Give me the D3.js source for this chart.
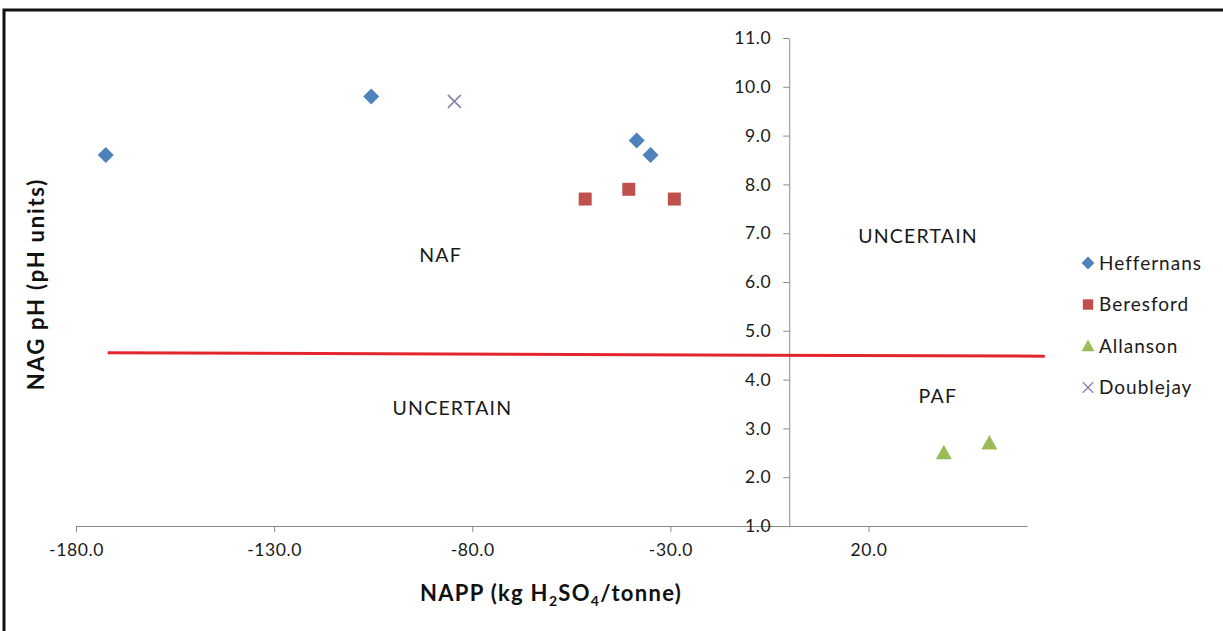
<html>
<head>
<meta charset="utf-8">
<script src="https://cdn.jsdelivr.net/npm/d3@7"></script>
<style>
  body { margin:0; background:#fff; }
  .tick text { font-family: Lato, "Open Sans", sans-serif; font-size:17.5px; fill:#1a1a1a; letter-spacing:0.6px; }
  .axis path, .axis line { stroke:#8a8a8a; }
</style>
</head>
<body>
<script>
// data
var xTicks = [-180, -130, -80, -30, 20];
var yTicks = [1, 2, 3, 4, 5, 6, 7, 8, 9, 10, 11];

var heffernans = [[-172.5, 8.6], [-105.5, 9.8], [-38.5, 8.9], [-35, 8.6]];
var beresford  = [[-51.5, 7.7], [-40.5, 7.9], [-29, 7.7]];
var allanson   = [[39, 2.5], [50.5, 2.7]];
var doublejay  = [[-84.5, 9.7]];
var boundary   = [[-172, 4.55], [64.5, 4.48]];

var zoneLabels = [
  {text:"NAF", x:-88, y:6.55},
  {text:"UNCERTAIN", x:-85, y:3.42},
  {text:"UNCERTAIN", x:32.5, y:6.94},
  {text:"PAF", x:37.5, y:3.66}
];

var series = [
  {name:"Heffernans", data:heffernans, shape:"diamond", color:"#4F81BD"},
  {name:"Beresford",  data:beresford,  shape:"square",  color:"#C0504D"},
  {name:"Allanson",   data:allanson,   shape:"triangle",color:"#9BBB59"},
  {name:"Doublejay",  data:doublejay,  shape:"cross",   color:"#8C7FA8"}
];

var W = 1223, H = 631;
var x = d3.scaleLinear().domain([-180, 60]).range([76, 1027]);
var y = d3.scaleLinear().domain([1, 11]).range([526, 38]);

// plain hyphen, one decimal
var fmt = function(d){ return d3.format(".1f")(d).replace("\u2212", "-"); };

var svg = d3.select("body").append("svg")
  .attr("width", W).attr("height", H);

// frame
svg.append("rect")
  .attr("x", 4).attr("y", 10).attr("width", 1240).attr("height", 660)
  .attr("fill", "none").attr("stroke", "#111").attr("stroke-width", 3);

// axes
svg.append("g").attr("class", "axis")
  .attr("transform", "translate(0," + y(1) + ")")
  .call(d3.axisBottom(x).tickValues(xTicks).tickFormat(fmt)
        .tickSize(6).tickSizeOuter(0).tickPadding(12));

svg.append("g").attr("class", "axis")
  .attr("transform", "translate(" + x(0) + ",0)")
  .call(d3.axisLeft(y).tickValues(yTicks).tickFormat(fmt)
        .tickSize(6).tickSizeOuter(0).tickPadding(12));

svg.selectAll(".axis .tick text").attr("font-family", "Lato");

// boundary line
svg.append("path")
  .datum(boundary)
  .attr("fill", "none").attr("stroke", "#E3262E").attr("stroke-width", 3)
  .attr("d", d3.line().x(function(d){return x(d[0]);}).y(function(d){return y(d[1]);}));

// zone labels
svg.selectAll(".zone").data(zoneLabels).enter().append("text")
  .attr("class", "zone")
  .attr("x", function(d){return x(d.x);})
  .attr("y", function(d){return y(d.y);})
  .attr("text-anchor", "middle").attr("dy", "0.35em")
  .style("font-family", "Lato").style("font-size", "19.5px").style("letter-spacing", "1.2px")
  .style("fill", "#1a1a1a")
  .text(function(d){return d.text;});

// marker drawing
function marker(sel, shape, color) {
  if (shape == "diamond") {
    sel.append("path").attr("d", "M0,-8L8,0L0,8L-8,0Z").attr("fill", color);
  } else if (shape == "square") {
    sel.append("rect").attr("x", -6.5).attr("y", -6.5).attr("width", 13).attr("height", 13).attr("fill", color);
  } else if (shape == "triangle") {
    sel.append("path").attr("d", "M0,-8L8,6.5L-8,6.5Z").attr("fill", color);
  } else {
    sel.append("path").attr("d", "M-6.5,-6.5L6.5,6.5M-6.5,6.5L6.5,-6.5")
      .attr("stroke", color).attr("stroke-width", 1.6).attr("fill", "none");
  }
}

series.forEach(function(s) {
  svg.selectAll(null).data(s.data).enter().append("g")
    .attr("transform", function(d){return "translate(" + x(d[0]) + "," + y(d[1]) + ")";})
    .each(function(){ marker(d3.select(this), s.shape, s.color); });
});

// legend
var legend = svg.append("g").attr("transform", "translate(1088,263)");
series.forEach(function(s, i) {
  var g = legend.append("g").attr("transform", "translate(0," + (i * 41.5) + ")");
  var m = g.append("g").attr("transform", "scale(0.8)");
  marker(m, s.shape, s.color);
  g.append("text").attr("x", 11).attr("dy", "0.35em")
    .style("font-family", "Lato").style("font-size", "19px").style("letter-spacing", "1px")
    .style("fill", "#1a1a1a")
    .text(s.name);
});

// axis titles
var xt = svg.append("text")
  .attr("x", 551).attr("y", 601).attr("text-anchor", "middle")
  .style("font-family", "Lato").style("font-size", "22px").style("font-weight", "bold")
  .style("letter-spacing", "1.3px").style("fill", "#111");
xt.append("tspan").text("NAPP (kg H");
xt.append("tspan").attr("dy", 5).style("font-size", "14px").text("2");
xt.append("tspan").attr("dy", -5).text("SO");
xt.append("tspan").attr("dy", 5).style("font-size", "14px").text("4");
xt.append("tspan").attr("dy", -5).text("/tonne)");

svg.append("text")
  .attr("transform", "translate(36,284) rotate(-90)")
  .attr("text-anchor", "middle").attr("dy", "0.35em")
  .style("font-family", "Lato").style("font-size", "22px").style("font-weight", "bold")
  .style("letter-spacing", "1.8px").style("fill", "#111")
  .text("NAG pH (pH units)");
</script>
</body>
</html>
